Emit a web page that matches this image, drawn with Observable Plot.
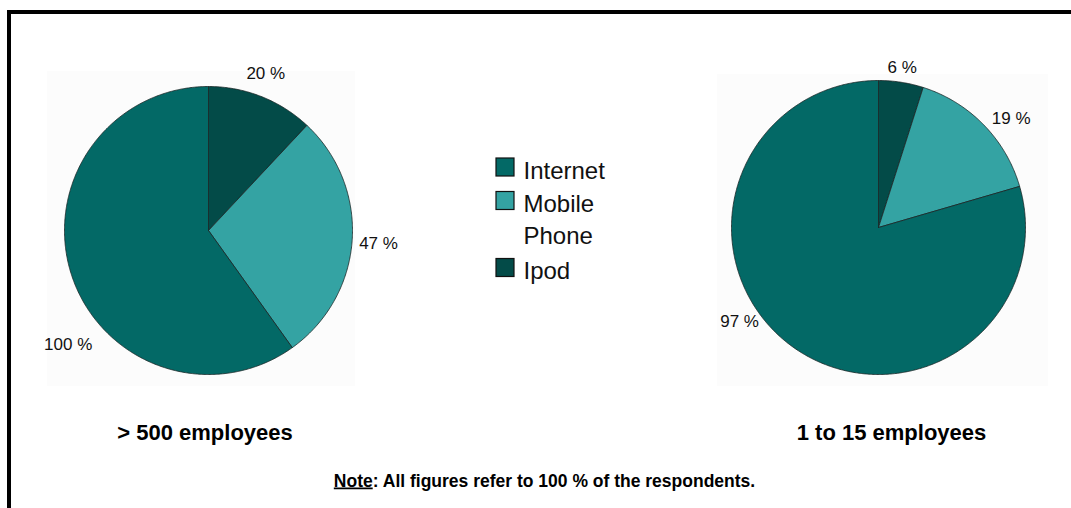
<!DOCTYPE html>
<html><head><meta charset="utf-8">
<script src="https://cdn.jsdelivr.net/npm/d3@7"></script>
<script src="https://cdn.jsdelivr.net/npm/@observablehq/plot@0.6"></script>
<style>
html,body{margin:0;padding:0;background:#fff;}
#wrap{position:relative;width:1071px;height:508px;overflow:hidden;font-family:"Liberation Sans",Arial,sans-serif;}
#frame{position:absolute;left:7px;top:10px;right:-10px;bottom:-10px;border-top:4px solid #000;border-left:4px solid #000;pointer-events:none;}
#chart{position:absolute;left:0;top:0;}
</style></head><body>
<div id="wrap"><div id="chart"></div><div id="frame"></div></div>
<script>
// ---- data ----
const categories = ["Internet", "Mobile Phone", "Ipod"];
const legendLabels = ["Internet", "Mobile\nPhone", "Ipod"];
const colors = ["#036966", "#34a3a3", "#034b48"];
const groups = ["> 500 employees", "1 to 15 employees"];
const largeValues = [100, 47, 20];   // > 500 employees
const smallValues = [97, 19, 6];     // 1 to 15 employees
const noteParts = ["Note", ": All figures refer to 100 % of the respondents."];

// ---- layout (positions, not data) ----
const drawOrder = ["Ipod", "Mobile Phone", "Internet"]; // clockwise from 12 o'clock
const pieLayout = [
  {cx: 208, cy: 230, r: 144, titleX: 204.5, panel: [47, 355, 71, 386],
   nudge: [[-21.4, 181], [0.6, 170.5], [-1.5, 167]]},
  {cx: 878, cy: 227, r: 147, titleX: 891, panel: [717, 1048, 74, 386],
   nudge: [[18.9, 168], [4.9, 171.6], [-0.45, 161.7]]}
];
const legendLayout = {x: 496, size: 18, top: 158, step: 33.5, textX: 523, lineHeight: 1.34, fontSize: 24};

// ---- derived mark tables ----
const seriesValues = [largeValues, smallValues];
const wedgePts = [], labels = [], panels = [], titles = [];
groups.forEach((name, g) => {
  const p = pieLayout[g];
  const values = seriesValues[g];
  const total = d3.sum(values);
  panels.push({x1: p.panel[0], x2: p.panel[1], y1: p.panel[2], y2: p.panel[3]});
  titles.push({name, x: p.titleX});
  let acc = 0;
  for (const cat of drawOrder) {
    const i = categories.indexOf(cat);
    const v = values[i];
    const a0 = acc / total * 2 * Math.PI; acc += v;
    const a1 = acc / total * 2 * Math.PI;
    const key = name + "|" + cat;
    wedgePts.push({key, cat, x: p.cx, y: p.cy});
    const n = Math.max(2, Math.ceil((a1 - a0) / (Math.PI / 360)));
    for (let k = 0; k <= n; k++) {
      const a = a0 + (a1 - a0) * k / n;
      wedgePts.push({key, cat, x: p.cx + p.r * Math.sin(a), y: p.cy - p.r * Math.cos(a)});
    }
    wedgePts.push({key, cat, x: p.cx, y: p.cy});
    const [dA, dist] = p.nudge[i];
    const am = (a0 + a1) / 2 + dA * Math.PI / 180;
    labels.push({text: v + " %", x: p.cx + dist * Math.sin(am), y: p.cy - dist * Math.cos(am)});
  }
});

let lineOffset = 0;
const legendItems = categories.map((cat, i) => {
  const top = legendLayout.top + lineOffset * legendLayout.step;
  lineOffset += legendLabels[i].split("\n").length;
  return {cat, label: legendLabels[i], y1: top, y2: top + legendLayout.size, ty: top - 2.5};
});

const note = [{text: noteParts.join(""), x: 544, y: 480.4}];

const chart = Plot.plot({
  width: 1071, height: 508, margin: 0,
  x: {domain: [0, 1071], axis: null},
  y: {domain: [0, 508], reverse: true, axis: null},
  color: {domain: categories, range: colors},
  style: {fontFamily: '"Liberation Sans", Arial, sans-serif', background: "transparent", color: "#000"},
  marks: [
    Plot.rect(panels, {x1: "x1", x2: "x2", y1: "y1", y2: "y2", fill: "#fcfcfc"}),
    Plot.line(wedgePts, {x: "x", y: "y", z: "key", fill: "cat", stroke: "#1b2626", strokeWidth: 0.8, curve: "linear", strokeLinejoin: "miter"}),
    Plot.text(labels, {x: "x", y: "y", text: "text", fontSize: 17, fill: "#111"}),
    Plot.rect(legendItems, {x1: legendLayout.x, x2: legendLayout.x + legendLayout.size, y1: "y1", y2: "y2", fill: "cat", stroke: "#111", strokeWidth: 1.2}),
    Plot.text(legendItems, {x: legendLayout.textX, y: "ty", text: "label", textAnchor: "start", lineAnchor: "top", lineHeight: legendLayout.lineHeight, fontSize: legendLayout.fontSize, fill: "#111"}),
    Plot.text(titles, {x: "x", y: 432, text: "name", fontSize: 22, fontWeight: "bold", fill: "#000"}),
    Plot.text(note, {x: "x", y: "y", text: "text", fontSize: 17.5, fontWeight: "bold", fill: "#000"})
  ]
});

// underline "Note"
for (const t of chart.querySelectorAll("text")) {
  if (t.textContent === noteParts.join("")) {
    t.textContent = "";
    const ns = "http://www.w3.org/2000/svg";
    const a = document.createElementNS(ns, "tspan");
    a.setAttribute("text-decoration", "underline");
    a.textContent = noteParts[0];
    const b = document.createElementNS(ns, "tspan");
    b.textContent = noteParts[1];
    t.appendChild(a); t.appendChild(b);
  }
}
document.getElementById("chart").appendChild(chart);
</script>
</body></html>
